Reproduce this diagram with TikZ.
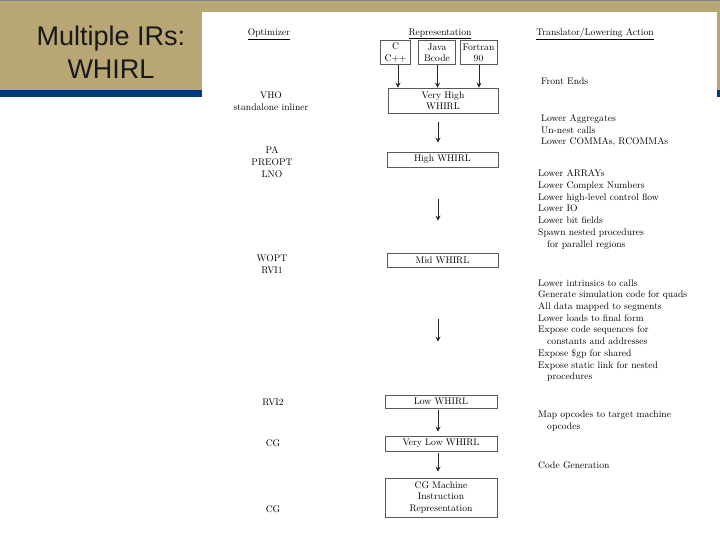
\documentclass[tikz,border=0pt]{standalone}
\usepackage{fontspec}
\newfontfamily\titlefont{Liberation Sans}
\usetikzlibrary{arrows.meta}
\definecolor{slidetan}{RGB}{184,166,116}
\definecolor{barblue}{RGB}{0,57,138}
\definecolor{topgrey}{RGB}{120,136,136}
\begin{document}
\begin{tikzpicture}[x=1pt,y=-1pt,
  txt/.style={inner sep=0pt, font=\fontsize{9.6}{11.7}\selectfont, text=black},
  col/.style={txt, align=center},
  act/.style={txt, align=left, anchor=west},
  repbox/.style={draw=black!65, line width=0.6pt, inner sep=0pt, align=center,
    font=\fontsize{9.6}{11.2}\selectfont, text=black},
  arr/.style={draw=black!85, line width=1pt, -{Stealth[length=5pt,width=5pt]}}]
\useasboundingbox (0,0) rectangle (720,540);
\fill[white] (0,0) rectangle (720,540);
\fill[slidetan] (0,0) rectangle (720,97);
\fill[barblue] (0,90.5) rectangle (720,97);
\fill[topgrey] (0,0) rectangle (720,1.5);
\fill[white] (202,12) rectangle (717,540);

\node[font=\titlefont\fontsize{27}{33}\selectfont, align=center, text=black!90] (title) at (111,52) {Multiple IRs:\\WHIRL};

% headers
\node[col] (hopt) at (269,34) {\underline{Optimizer}};
\node[col] (hrep) at (440,34) {\underline{Representation}};
\node[col] (hact) at (595,34) {\underline{Translator/Lowering Action}};

% representation boxes
\node[repbox, minimum width=30pt, minimum height=24pt] (c) at (395.5,52.5) {C\\C++};
\node[repbox, minimum width=37pt, minimum height=24pt] (java) at (437,52.5) {Java\\Bcode};
\node[repbox, minimum width=37pt, minimum height=24pt] (fort) at (478.5,52.5) {Fortran\\90};
\node[repbox, minimum width=110pt, minimum height=25pt] (vh) at (443,100.5) {Very High\\WHIRL};
\node[repbox, minimum width=111pt, minimum height=15pt] (high) at (442.5,159.5) {High WHIRL};
\node[repbox, minimum width=111pt, minimum height=14pt] (mid) at (442.5,260) {Mid WHIRL};
\node[repbox, minimum width=112pt, minimum height=13pt] (low) at (441,401.5) {Low WHIRL};
\node[repbox, minimum width=112pt, minimum height=15pt] (vlow) at (441,443.5) {Very Low WHIRL};
\node[repbox, minimum width=112pt, minimum height=39pt] (cgm) at (441,497.5) {CG Machine\\Instruction\\Representation};

\coordinate (ax) at (438,0);
\draw[arr] ([xshift=2.5pt]c.south) -- ([xshift=2.5pt]c.south |- vh.north);
\draw[arr] ([xshift=0.5pt]java.south) -- ([xshift=0.5pt]java.south |- vh.north);
\draw[arr] ([xshift=0.5pt]fort.south) -- ([xshift=0.5pt]fort.south |- vh.north);
\draw[arr, shorten <=9pt, shorten >=9pt] (vh.south -| ax) -- (high.north -| ax);
\draw[arr, shorten <=32pt, shorten >=32pt] (high.south -| ax) -- (mid.north -| ax);
\draw[arr, shorten <=52pt, shorten >=53pt] (mid.south -| ax) -- (low.north -| ax);
\draw[arr, shorten <=2pt, shorten >=4pt] (low.south -| ax) -- (vlow.north -| ax);
\draw[arr, shorten <=2pt, shorten >=6pt] (vlow.south -| ax) -- (cgm.north -| ax);

% optimizer column
\node[col] (vho) at (271,101) {VHO\\standalone inliner};
\node[col] (pa) at (272,162) {PA\\PREOPT\\LNO};
\node[col] (wopt) at (272,264) {WOPT\\RVI1};
\node[col] (rvi2) at (273,402) {RVI2};
\node[col] (cg1) at (273,443.5) {CG};
\node[col] (cg2) at (273,509) {CG};

% actions column
\node[act] (fe) at (541,81) {Front Ends};
\node[act] (g1) at (541,130.5) {Lower Aggregates\\Un-nest calls\\Lower COMMAs, RCOMMAs};
\node[act] (g2) at (538,209.5) {Lower ARRAYs\\Lower Complex Numbers\\Lower high-level control flow\\Lower IO\\Lower bit fields\\Spawn nested procedures\\\hspace*{9pt}for parallel regions};
\node[act] (g3) at (538,330.5) {Lower intrinsics to calls\\Generate simulation code for quads\\All data mapped to segments\\Lower loads to final form\\Expose code sequences for\\\hspace*{9pt}constants and addresses\\Expose \$gp for shared\\Expose static link for nested\\\hspace*{9pt}procedures};
\node[act] (g4) at (538,421) {Map opcodes to target machine\\\hspace*{9pt}opcodes};
\node[act] (g5) at (538,465) {Code Generation};
\end{tikzpicture}
\end{document}
